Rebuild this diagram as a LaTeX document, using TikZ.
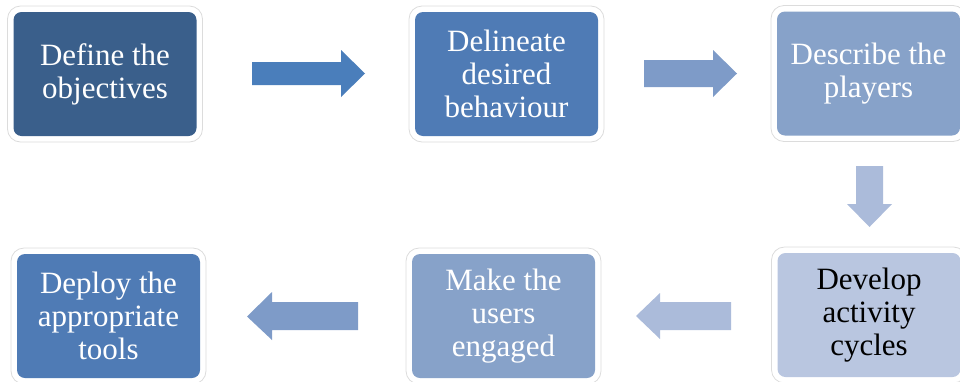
\documentclass[tikz,border=0pt]{standalone}
\usepackage{fontspec}
\setmainfont{Liberation Serif}
\definecolor{stepA}{HTML}{3A5F8B}
\definecolor{stepB}{HTML}{4F7BB5}
\definecolor{stepC}{HTML}{87A2C9}
\definecolor{stepD}{HTML}{B9C6E0}
\definecolor{arrA}{HTML}{4A7EBB}
\definecolor{arrB}{HTML}{7E9BC8}
\definecolor{arrC}{HTML}{ABBBDA}
\definecolor{frameline}{HTML}{DCDCDC}
\begin{document}
\begin{tikzpicture}[x=1pt,y=-1pt,
  framebox/.style={draw=frameline,line width=0.8pt,fill=white,rounded corners=13pt,
    minimum width=#1+12pt,minimum height=136pt,inner sep=0pt},
  framebox/.default=183pt,
  stepbox/.style={rounded corners=8pt,minimum width=183pt,minimum height=124pt,
    inner sep=0pt,align=center,text=white,
    font=\fontsize{31pt}{33pt}\selectfont},
  blockarrow/.style={draw=none}
]
\useasboundingbox (0,0) rectangle (960,381);

% outer white frames
\node[framebox] (f1) at (105,74) {};
\node[framebox] (f2) at (506.5,74) {};
\node[framebox] (f3) at (868.5,73.5) {};
\node[framebox] (f4) at (869,315) {};
\node[framebox] (f5) at (503.5,316) {};
\node[framebox] (f6) at (108.5,316) {};

% process steps
\node[stepbox,fill=stepA] (s1) at (f1.center) {Define the\\objectives};
\node[stepbox,fill=stepB] (s2) at (f2.center) {Delineate\\desired\\behaviour};
\node[stepbox,fill=stepC] (s3) at (f3.center) {Describe the\\players};
\node[stepbox,fill=stepD,text=black] (s4) at (f4.center) {Develop\\activity\\cycles};
\node[stepbox,fill=stepC] (s5) at (f5.center) {Make the\\users\\engaged};
\node[stepbox,fill=stepB] (s6) at (f6.center) {Deploy the\\appropriate\\tools};

% block arrows between the steps
\fill[arrA] (252,62) -- (341,62) -- (341,50) -- (365,73.5) -- (341,97) -- (341,85) -- (252,85) -- cycle;
\fill[arrB] (644,60) -- (713,60) -- (713,50) -- (737,73.5) -- (713,97) -- (713,87) -- (644,87) -- cycle;
\fill[arrC] (856,166) -- (883,166) -- (883,204) -- (892,204) -- (869.5,227) -- (847,204) -- (856,204) -- cycle;
\fill[arrC] (731,302) -- (660,302) -- (660,293) -- (636,316) -- (660,339) -- (660,330) -- (731,330) -- cycle;
\fill[arrB] (358,302) -- (272,302) -- (272,292) -- (247,316.5) -- (272,340) -- (272,330) -- (358,330) -- cycle;
\end{tikzpicture}
\end{document}
